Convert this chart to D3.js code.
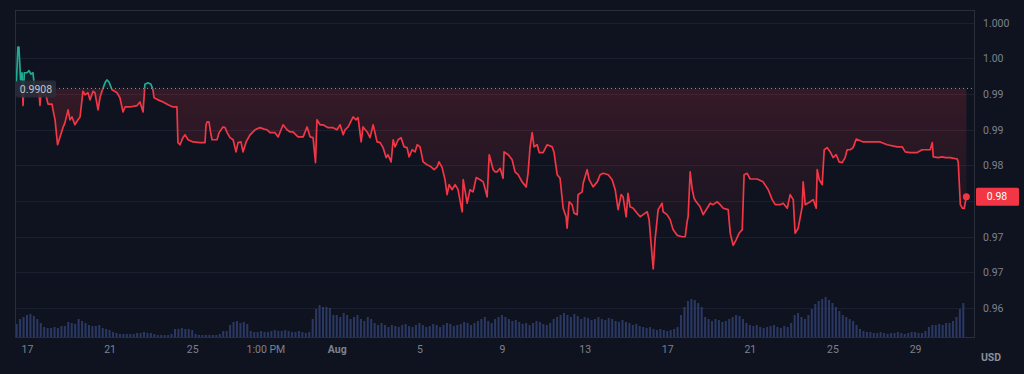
<!DOCTYPE html>
<html><head><meta charset="utf-8">
<script src="https://cdn.jsdelivr.net/npm/d3@7"></script>
<style>html,body{margin:0;padding:0;background:#0f1320;}svg{display:block;font-family:Roboto,"Noto Sans",sans-serif;}</style>
</head><body><svg id="c" width="1024" height="374"></svg>
<script>
// time in fractional day-of-July (Aug 1 = 32)
const times = [16.49,16.56,16.61,16.69,16.76,16.81,16.87,17.00,17.10,17.19,17.29,17.39,17.48,17.58,17.63,17.68,17.82,17.92,18.02,18.21,18.26,18.36,18.48,18.60,18.74,18.84,18.99,19.08,19.18,19.32,19.47,19.57,19.71,19.81,19.95,20.05,20.20,20.29,20.44,20.54,20.63,20.78,20.87,20.97,21.12,21.36,21.50,21.65,21.75,21.99,22.33,22.47,22.62,22.71,22.86,23.00,23.10,23.15,23.34,23.59,23.83,24.07,24.26,24.31,
24.41,24.55,24.65,24.80,25.04,25.38,25.62,25.67,25.72,25.81,25.91,25.96,26.20,26.30,26.49,26.59,26.69,26.83,26.98,27.12,27.22,27.36,27.46,27.61,27.80,28.04,28.28,28.48,28.62,28.77,29.01,29.16,29.40,29.59,29.74,29.88,30.12,30.37,30.56,30.71,30.85,30.97,31.04,31.19,31.33,31.58,31.82,
32.01,32.16,32.31,32.40,32.55,32.79,32.93,33.03,33.18,33.27,33.47,33.61,33.76,33.95,34.10,34.24,34.39,34.48,34.63,34.73,34.82,34.97,35.11,35.26,35.40,35.50,35.65,35.79,35.89,36.03,36.18,36.37,36.52,36.71,36.86,36.95,37.10,37.24,37.34,37.44,37.58,37.73,37.87,38.07,38.12,38.31,38.45,38.60,38.75,38.94,39.09,39.28,39.38,39.57,39.67,
39.76,39.91,40.05,40.10,40.30,40.49,40.63,40.78,40.97,41.17,41.26,41.36,41.46,41.55,41.70,41.80,41.99,42.18,42.43,42.52,42.67,42.81,42.96,43.10,43.15,43.25,43.39,43.49,43.64,43.68,43.88,43.93,44.12,44.22,44.41,44.61,44.75,44.90,45.14,45.33,45.48,45.62,45.77,45.86,46.01,46.10,46.20,46.35,46.54,46.69,46.83,47.03,47.12,47.27,47.32,47.41,
47.56,47.75,47.80,47.99,48.14,48.28,48.48,48.72,48.87,48.96,49.01,49.11,49.21,49.30,49.40,49.59,49.74,49.93,50.08,50.22,50.42,50.56,50.71,50.95,51.05,51.19,51.34,51.48,51.63,51.72,51.87,52.01,52.35,52.64,52.89,53.08,53.23,53.47,53.61,53.81,53.95,54.10,54.19,54.34,54.53,54.58,54.68,54.92,
55.07,55.21,55.26,55.36,55.50,55.60,55.74,55.89,56.03,56.18,56.32,56.47,56.61,56.71,56.86,57.00,57.15,57.49,57.83,58.31,58.65,59.13,59.38,59.52,59.76,60.10,60.34,60.73,60.83,60.88,61.12,61.31,61.46,61.70,62.04,62.09,62.19,62.29,62.38,62.48];
const prices = [0.9917,0.9966,0.9966,0.9920,0.9930,0.9884,0.9930,0.9930,0.9933,0.9928,0.9930,0.9903,0.9903,0.9902,0.9884,0.9902,0.9899,0.9898,0.9886,0.9886,0.9878,0.9864,0.9829,0.9840,0.9853,0.9860,0.9878,0.9864,0.9868,0.9857,0.9864,0.9868,0.9904,0.9899,0.9902,0.9892,0.9904,0.9902,0.9878,0.9896,0.9904,0.9916,0.9920,0.9917,0.9906,0.9902,0.9895,0.9875,0.9882,0.9882,0.9884,0.9889,0.9875,0.9914,0.9916,0.9914,0.9906,0.9895,0.9892,0.9889,0.9885,0.9882,0.9882,0.9832,
0.9829,0.9839,0.9843,0.9836,0.9833,0.9832,0.9832,0.9857,0.9861,0.9861,0.9843,0.9836,0.9836,0.9846,0.9854,0.9853,0.9846,0.9839,0.9836,0.9819,0.9832,0.9833,0.9819,0.9833,0.9843,0.9850,0.9853,0.9851,0.9850,0.9846,0.9846,0.9840,0.9857,0.9850,0.9847,0.9847,0.9840,0.9840,0.9854,0.9840,0.9839,0.9804,0.9864,0.9857,0.9857,0.9853,0.9853,
0.9850,0.9857,0.9843,0.9850,0.9854,0.9868,0.9864,0.9867,0.9833,0.9854,0.9847,0.9839,0.9857,0.9833,0.9832,0.9825,0.9811,0.9815,0.9805,0.9836,0.9826,0.9836,0.9839,0.9826,0.9825,0.9812,0.9822,0.9819,0.9829,0.9826,0.9805,0.9801,0.9799,0.9794,0.9798,0.9805,0.9797,0.9780,0.9759,0.9773,0.9766,0.9773,0.9766,0.9735,0.9780,0.9747,0.9766,0.9763,0.9783,0.9780,0.9777,0.9756,0.9815,0.9794,0.9791,
0.9791,0.9796,0.9782,0.9819,0.9815,0.9808,0.9791,0.9787,0.9777,0.9770,0.9789,0.9826,0.9846,0.9826,0.9829,0.9818,0.9818,0.9829,0.9826,0.9818,0.9787,0.9782,0.9740,0.9728,0.9712,0.9749,0.9745,0.9733,0.9731,0.9759,0.9763,0.9775,0.9794,0.9780,0.9770,0.9777,0.9787,0.9789,0.9787,0.9780,0.9766,0.9738,0.9759,0.9756,0.9728,0.9761,0.9742,0.9740,0.9733,0.9728,0.9731,0.9735,0.9724,0.9672,0.9655,0.9696,
0.9738,0.9747,0.9735,0.9731,0.9724,0.9710,0.9702,0.9700,0.9700,0.9721,0.9728,0.9791,0.9766,0.9754,0.9749,0.9742,0.9731,0.9740,0.9747,0.9745,0.9749,0.9745,0.9740,0.9738,0.9705,0.9688,0.9696,0.9705,0.9710,0.9787,0.9789,0.9781,0.9781,0.9777,0.9766,0.9752,0.9745,0.9745,0.9747,0.9740,0.9759,0.9752,0.9705,0.9712,0.9742,0.9777,0.9745,0.9749,
0.9752,0.9740,0.9794,0.9780,0.9773,0.9822,0.9825,0.9819,0.9811,0.9815,0.9805,0.9804,0.9811,0.9822,0.9822,0.9825,0.9837,0.9833,0.9833,0.9833,0.9829,0.9826,0.9826,0.9819,0.9818,0.9818,0.9822,0.9822,0.9832,0.9812,0.9811,0.9812,0.9811,0.9811,0.9809,0.9804,0.9745,0.9740,0.9740,0.9756];
// volume, one bar every 4 hours starting Jul 16 12:00
const volStart = 16.5;
const volumes = [13,18,20,
22,23,21,18,14,10, 9,9,10,9,11,11, 15,14,13,18,16,14, 12,11,11,12,9,8, 7,5,4,3,3,3,
3,3,4,4,5,4, 4,3,2,2,2,2, 3,8,8,9,8,8, 7,3,2,2,2,2, 2,2,3,6,6,12,
15,16,14,15,13,6, 5,5,6,5,5,6, 7,6,6,7,6,5, 5,6,5,4,5,18, 28,32,30,30,29,22,
22,20,24,22,18,20, 22,18,16,20,18,14, 12,14,12,10,12,11, 10,12,13,11,10,12, 14,12,10,11,13,12,
10,12,14,13,11,12, 13,15,14,12,14,16, 18,20,16,14,18,20, 22,20,18,16,17,15, 13,14,12,14,16,15,
13,12,14,18,20,22, 24,22,20,23,21,18, 20,19,17,18,20,18, 17,19,18,16,15,17, 15,14,12,13,11,10,
9,10,8,7,8,7, 6,7,8,10,22,30, 36,38,37,34,30,20, 18,16,18,17,15,16, 18,20,22,21,18,14,
12,11,12,10,9,10, 11,12,10,9,11,10, 14,22,24,20,18,22, 28,33,36,38,40,37, 34,30,26,22,20,18,
16,12,8,6,5,5, 4,4,5,4,3,4, 4,5,4,3,4,5, 5,4,4,6,10,12, 12,13,12,14,14,16,
20,28,34];
const baseValue = 0.9908;
const baseLabel = "0.9908";
const lastLabel = "0.98";
const yTicks = [1.000,0.995,0.990,0.985,0.980,0.975,0.970,0.965,0.960];
const yTickLabels = ["1.000","1.00","0.99","0.99","0.98","0.98","0.97","0.97","0.96"];
const xTicks = [17,21,25,28.5417,32,36,40,44,48,52,56,60];
const xTickLabels = ["17","21","25","1:00 PM","Aug","5","9","13","17","21","25","29"];
const currency = "USD";

const toDate = d => new Date(Date.UTC(2024,6,1) + (d-1)*864e5);
const L=15, R=975, T=10.5, B=337.5;
const svg = d3.select("#c");
svg.append("rect").attr("width",1024).attr("height",374).attr("fill","#0f1320");
const x = d3.scaleTime().domain([toDate(16.42), toDate(62.9)]).range([L,R]);
const y = d3.scaleLinear().domain([0.9558,1.0018]).range([338,10]);
const yv = d3.scaleLinear().domain([0,40]).range([337,297]);

const data = times.map((t,i)=>({t:toDate(t), v:prices[i]}));
const vdata = volumes.map((v,i)=>({t:toDate(volStart+i/6), v}));
const last = data[data.length-1];

// grid
svg.append("g").selectAll("line").data(yTicks).join("line")
  .attr("x1",L).attr("x2",R).attr("y1",d=>Math.round(y(d))+0.5).attr("y2",d=>Math.round(y(d))+0.5)
  .attr("stroke","#1b2030").attr("stroke-width",1);

// volume
svg.append("g").selectAll("rect").data(vdata).join("rect")
  .attr("x",d=>x(d.t)-1).attr("width",2)
  .attr("y",d=>yv(d.v)).attr("height",d=>yv(0)-yv(d.v))
  .attr("fill","#34457a").attr("opacity",0.75);

const by = y(baseValue);
const defs = svg.append("defs");
defs.append("clipPath").attr("id","above").append("rect").attr("x",L).attr("y",0).attr("width",R-L).attr("height",by);
defs.append("clipPath").attr("id","below").append("rect").attr("x",L).attr("y",by).attr("width",R-L).attr("height",374-by);
const gr = defs.append("linearGradient").attr("id","gRed").attr("gradientUnits","userSpaceOnUse")
  .attr("x1",0).attr("x2",0).attr("y1",by).attr("y2",y(0.966));
gr.append("stop").attr("offset",0).attr("stop-color","#f23645").attr("stop-opacity",0.17);
gr.append("stop").attr("offset",1).attr("stop-color","#f23645").attr("stop-opacity",0.01);
const gg = defs.append("linearGradient").attr("id","gGreen").attr("gradientUnits","userSpaceOnUse")
  .attr("x1",0).attr("x2",0).attr("y1",y(0.998)).attr("y2",by);
gg.append("stop").attr("offset",0).attr("stop-color","#22ab94").attr("stop-opacity",0.2);
gg.append("stop").attr("offset",1).attr("stop-color","#22ab94").attr("stop-opacity",0.04);

const area = d3.area().x(d=>x(d.t)).y0(by).y1(d=>y(d.v));
const line = d3.line().x(d=>x(d.t)).y(d=>y(d.v));
svg.append("path").datum(data).attr("d",area).attr("fill","url(#gRed)").attr("clip-path","url(#below)");
svg.append("path").datum(data).attr("d",area).attr("fill","url(#gGreen)").attr("clip-path","url(#above)");
svg.append("path").datum(data).attr("d",line).attr("fill","none").attr("stroke","#f23645").attr("stroke-width",1.7).attr("stroke-linejoin","round").attr("clip-path","url(#below)");
svg.append("path").datum(data).attr("d",line).attr("fill","none").attr("stroke","#22ab94").attr("stroke-width",1.7).attr("stroke-linejoin","round").attr("clip-path","url(#above)");

// baseline dotted
svg.append("line").attr("x1",L).attr("x2",R).attr("y1",by).attr("y2",by)
  .attr("stroke","#9598a1").attr("stroke-width",1).attr("stroke-dasharray","1,3");

// frame
svg.append("rect").attr("x",L+0.5).attr("y",T).attr("width",R-L-1).attr("height",B-T)
  .attr("fill","none").attr("stroke","#2a2e39");

// baseline label
svg.append("rect").attr("x",L+1).attr("y",by-8).attr("width",40).attr("height",17).attr("rx",2).attr("fill","#2a2e39").attr("opacity",0.9);
svg.append("text").attr("x",L+21).attr("y",by+0.5).attr("dy","0.35em").attr("text-anchor","middle")
  .attr("font-size",10.5).attr("fill","#c3c6ce").text(baseLabel);

// axes (tick labels hidden behind the last-price tag are not drawn, as on the reference)
const ay = svg.append("g").attr("transform",`translate(${R},0)`)
  .call(d3.axisRight(y).tickValues(yTicks.filter(d=>Math.abs(y(d)-y(last.v))>12))
    .tickFormat(d=>yTickLabels[yTicks.indexOf(d)]).tickSize(0).tickPadding(8));
ay.select(".domain").remove();
ay.selectAll("text").attr("fill","#7d818c").attr("font-size",10.5).attr("font-family","Roboto,sans-serif");

const ax = svg.append("g").attr("transform",`translate(0,${B})`)
  .call(d3.axisBottom(x).tickValues(xTicks.map(toDate)).tickFormat((d,i)=>xTickLabels[i]).tickSize(0).tickPadding(8));
ax.select(".domain").remove();
ax.selectAll("text").attr("fill","#7d818c").attr("font-size",10.5).attr("font-family","Roboto,sans-serif")
  .attr("font-weight",(d,i)=>xTickLabels[i]==="Aug"?"700":"400");

svg.append("text").attr("x",991).attr("y",357).attr("dy","0.35em").attr("text-anchor","middle")
  .attr("font-size",10.5).attr("font-weight",700).attr("fill","#8a8e99").text(currency);

// last price
svg.append("circle").attr("cx",x(last.t)).attr("cy",y(last.v)).attr("r",3.5).attr("fill","#f23645");
svg.append("rect").attr("x",R+1).attr("y",y(last.v)-9).attr("width",43).attr("height",18).attr("rx",1.5).attr("fill","#f23645");
svg.append("text").attr("x",R+22).attr("y",y(last.v)).attr("dy","0.35em").attr("text-anchor","middle")
  .attr("font-size",10.5).attr("fill","#ffffff").text(lastLabel);
</script></body></html>
